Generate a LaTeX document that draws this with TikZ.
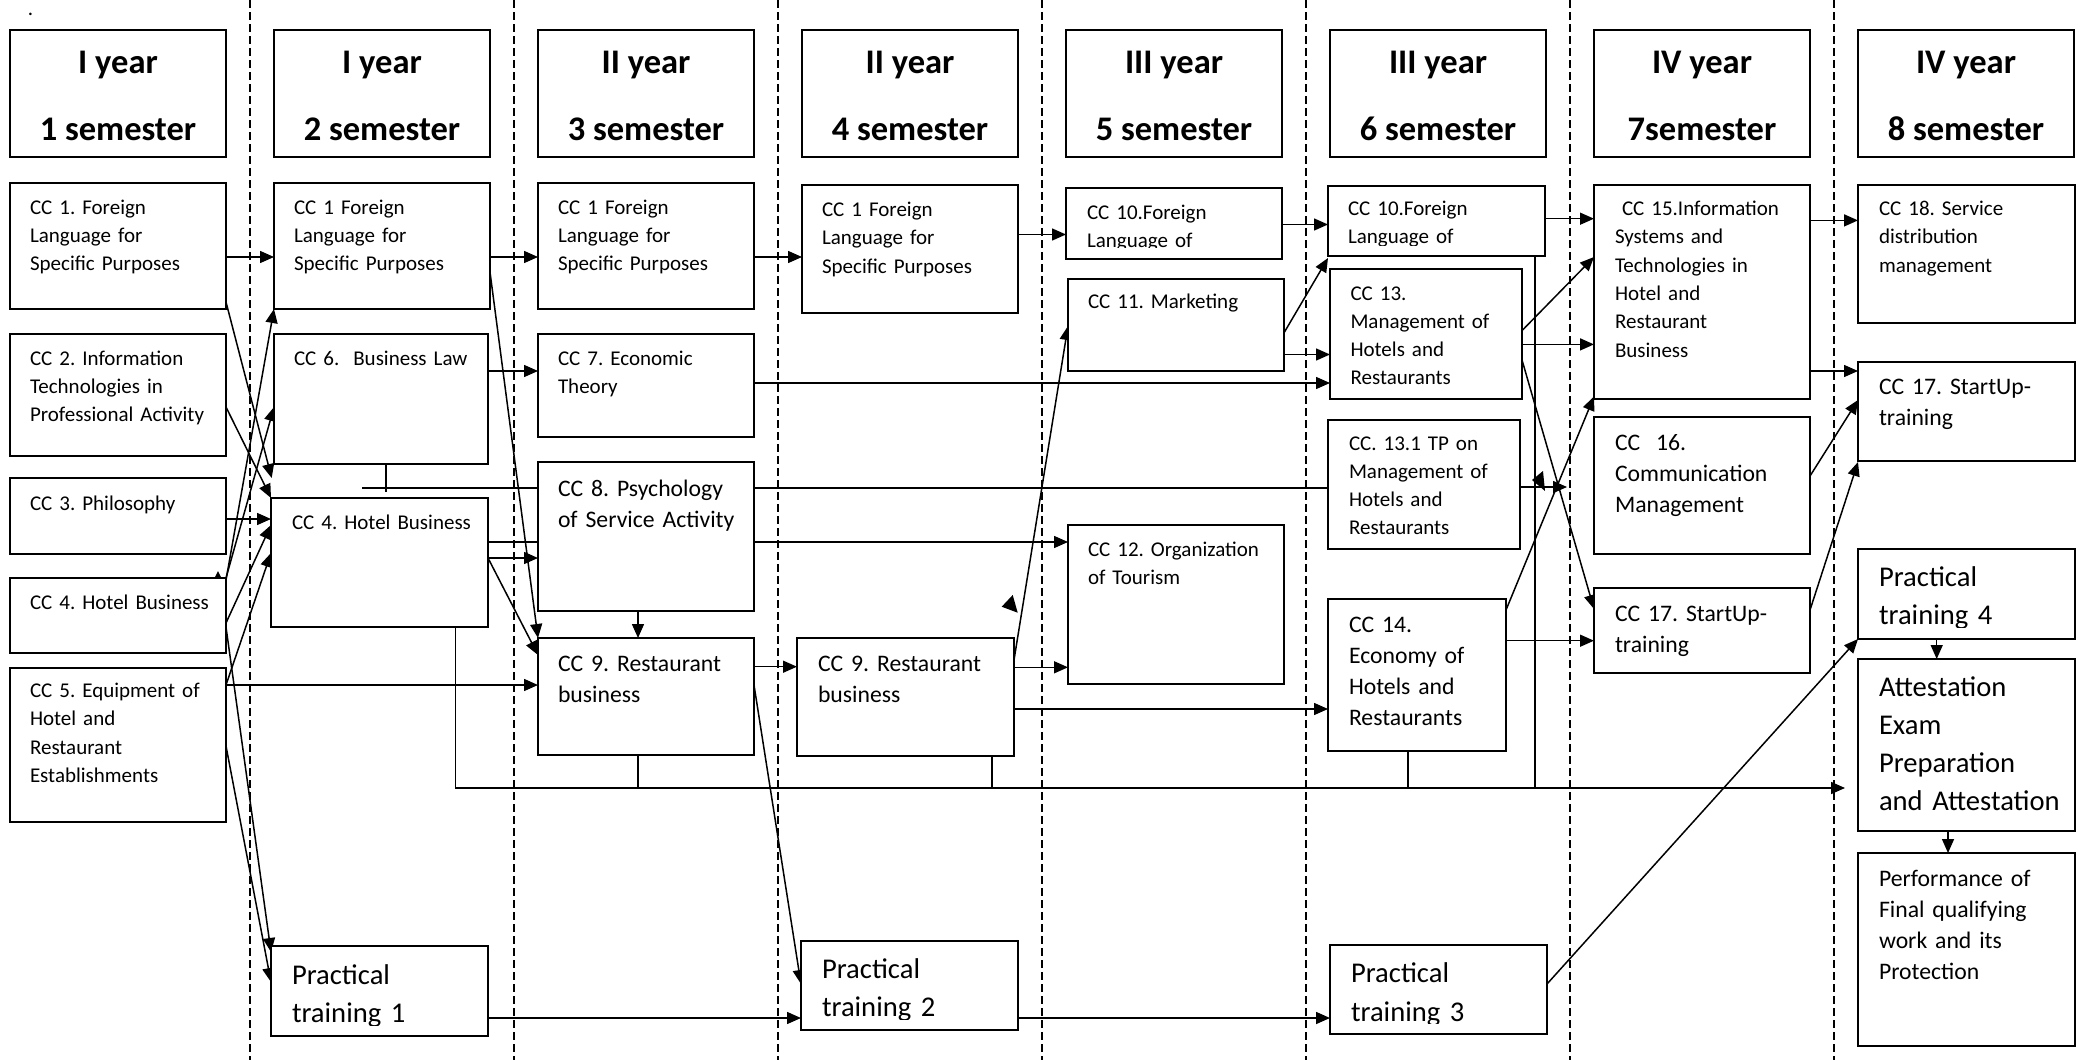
\documentclass[tikz,border=0pt]{standalone}
\usepackage{fontspec}
\setmainfont{Carlito}
\usetikzlibrary{arrows.meta}
\frenchspacing
\newcommand\szS{\fontsize{21}{28.3}\selectfont}
\newcommand\szM{\fontsize{23.7}{31}\selectfont}
\newcommand\szL{\fontsize{28.6}{38.3}\selectfont}
\newcommand\szH{\fontsize{34.5}{40}\selectfont\bfseries}
\tikzset{
  box/.style={draw, line width=1.9pt, fill=white, inner sep=0pt, outer sep=0pt, rectangle},
  txt/.style={anchor=base west, inner sep=0pt, outer sep=0pt, align=left, text width=320pt},
  hdr/.style={anchor=base, inner sep=0pt, outer sep=0pt, font=\szH},
  con/.style={line width=1.5pt},
  arr/.style={con, -{Triangle[length=14pt,width=12pt]}},
  dsh/.style={line width=1.6pt, dash pattern=on 8pt off 4pt},
}
\newcommand\mkbox[5]{\node[box,minimum width={#4-#2},minimum height={#5-#3}] (#1) at ({(#2+#4)/2},{(#3+#5)/2}) {};}
\begin{document}
\begin{tikzpicture}[x=1pt,y=-1pt]
\fill[white] (0,0) rectangle (2080,1060);
\useasboundingbox (0,0) rectangle (2080,1060);
% dashed separators
\foreach \xx in {250,514,778,1042,1306,1570,1834}{\draw[dsh] (\xx,0) -- (\xx,1060);}
\node[font=\szS, anchor=base, inner sep=0pt] (dot) at (30.5,16) {.};
% ---------- box geometry (nodes defined first, drawn later by fill) ----------
\begin{scope}[box/.append style={draw=none, fill=none}]
\mkbox{c1a}{10}{183}{226}{309}
\mkbox{c1b}{10}{334}{226}{456}
\mkbox{c1c}{10}{478}{226}{554}
\mkbox{c1d}{10}{578}{226}{653}
\mkbox{c1e}{10}{668}{226}{822}
\mkbox{c2a}{274}{183}{490}{309}
\mkbox{c2b}{274}{334}{488}{464}
\mkbox{c2c}{271}{498}{488}{627}
\mkbox{pt1}{271}{946}{488}{1036}
\mkbox{c3a}{538}{183}{754}{309}
\mkbox{c3b}{538}{334}{754}{437}
\mkbox{c3c}{538}{462}{754}{611}
\mkbox{c3d}{538}{638}{754}{755}
\mkbox{c4a}{802}{185}{1018}{313}
\mkbox{c4b}{797}{638}{1014}{756}
\mkbox{pt2}{801}{941}{1018}{1030}
\mkbox{c5a}{1066}{188}{1282}{259}
\mkbox{c5b}{1068}{279}{1284}{371}
\mkbox{c5c}{1068}{525}{1284}{684}
\mkbox{c6a}{1328}{186}{1545}{256}
\mkbox{c6b}{1330}{269}{1522}{399}
\mkbox{c6c}{1328}{420}{1520}{549}
\mkbox{c6d}{1328}{599}{1506}{751}
\mkbox{pt3}{1330}{945}{1547}{1034}
\mkbox{c7a}{1594}{185}{1810}{399}
\mkbox{c7b}{1594}{417}{1810}{554}
\mkbox{c7c}{1594}{588}{1810}{673}
\mkbox{c8a}{1858}{185}{2075}{323}
\mkbox{c8b}{1858}{362}{2075}{461}
\mkbox{pt4}{1858}{549}{2075}{639}
\mkbox{att}{1858}{659}{2075}{831}
\mkbox{perf}{1858}{853}{2075}{1046}
\end{scope}
% ---------- connectors ----------
\draw[arr] (c1a.east |- 0,257) -- (c2a.west |- 0,257);
\draw[arr] (c2a.east |- 0,257) -- (c3a.west |- 0,257);
\draw[arr] (c3a.east |- 0,257) -- (c4a.west |- 0,257);
\draw[arr] (c4a.east |- 0,234.5) -- (c5a.west |- 0,234.5);
\draw[arr] (c5a.east |- 0,224.5) -- (c6a.west |- 0,224.5);
\draw[arr] (c6a.east |- 0,218.7) -- (c7a.west |- 0,218.7);
\draw[arr] (c7a.east |- 0,220.4) -- (c8a.west |- 0,220.4);
\draw[arr] (c7a.east |- 0,371) -- (c8b.west |- 0,371);
\draw[arr] (c6b.east |- 0,330.6) -- (c7a.west |- 0,257);
\draw[arr] (c6b.east |- 0,344.4) -- (c7a.west |- 0,344.4);
\draw[arr] (c6b.east |- 0,360) -- (c7c.west |- 0,609);
\draw[arr] (c6d.east |- 0,610) -- (c7a.west |- 0,396.5);
\draw[arr] (c6d.east |- 0,640.7) -- (c7c.west |- 0,640.7);
\coordinate (x13) at (1567,487);
\draw[arr] (c6c.east |- 0,487) -- (x13);
\draw[arr] (c7b.east |- 0,476) -- (c8b.west |- 0,400);
\draw[arr] (c7c.east |- 0,610) -- (c8b.west |- 0,462);
\draw[arr] (pt3.east |- 0,984) -- (pt4.west |- 0,639);
\draw[arr] (pt4.south -| 1936.7,0) -- (att.north -| 1936.7,0);
\draw[arr] (att.south -| 1948,0) -- (perf.north -| 1948,0);
\draw[arr] (c5b.east |- 0,332.8) -- (c6a.west |- 0,258);
\draw[arr] (c5b.east |- 0,354.5) -- (c6b.west |- 0,354.5);
\draw[arr] (c3b.east |- 0,383) -- (c6b.west |- 0,383);
\draw[arr] (c4b.east |- 0,660) -- (c5b.west |- 0,326);
\draw[arr] (c4b.east |- 0,667.3) -- (c5c.west |- 0,667.3);
\draw[arr] (c4b.east |- 0,709) -- (c6d.west |- 0,709);
\draw[arr] (c3d.east |- 0,666.7) -- (c4b.west |- 0,666.7);
\draw[arr] (c3d.east |- 0,685) -- (pt2.west |- 0,984);
\draw[arr] (pt1.east |- 0,1018) -- (pt2.west |- 0,1018);
\draw[arr] (pt2.east |- 0,1018) -- (pt3.west |- 0,1018);
\draw[arr] (c3c.south -| 638,0) -- (c3d.north -| 638,0);
\draw[arr] (c2c.east |- 0,542) -- (c5c.west |- 0,542);
\draw[arr] (c2c.east |- 0,558) -- (c3c.west |- 0,558);
\draw[arr] (c2c.east |- 0,558) -- (c3d.west |- 0,655);
\draw[arr] (c2a.east |- 0,272) -- (c3d.north west);
\draw[arr] (c2b.east |- 0,371) -- (c3b.west |- 0,371);
\coordinate (x1) at (271.7,478);
\draw[arr] (c1a.east |- 0,302) -- (x1);
\draw[arr] (c1b.east |- 0,407) -- (c2c.north west);
\draw[arr] (c1c.east |- 0,519) -- (c2c.west |- 0,519);
\draw[arr] (c1d.east |- 0,580) -- (c2a.south west);
\draw[arr] (c1d.east |- 0,578) -- (c2b.west |- 0,407);
\draw[arr] (c1d.east |- 0,623) -- (c2c.west |- 0,525);
\draw[arr] (c1d.east |- 0,627) -- (pt1.west |- 0,952);
\draw[arr] (c1e.east |- 0,685) -- (c2c.west |- 0,553);
\draw[arr] (c1e.east |- 0,685) -- (c3d.west |- 0,685);
\draw[arr] (c1e.east |- 0,746) -- (pt1.west |- 0,982);
% CC6 -> CC13.1 (T connector)
\coordinate (t6) at (386,492);
\coordinate (t6b) at (362,488);
\draw[con] (c2b.south -| 386,0) -- (t6);
\draw[con] (t6b) -- (c6c.west |- 0,488);
% bottom bus to attestation
\coordinate (bus) at (0,788);
\coordinate (busend) at (1845,788);
\draw[arr] (c2c.south -| 455.6,0) |- (busend);
\draw[con] (c3d.south -| 638,0) -- (638,0 |- bus);
\draw[con] (c4b.south -| 992,0) -- (992,0 |- bus);
\draw[con] (c6d.south -| 1408,0) -- (1408,0 |- bus);
\draw[con] (c6a.south -| 1535,0) -- (1535,0 |- bus);
% stray arrowheads
\fill (214,579) -- (222,579) -- (218,571) -- cycle;
\fill (1001.7,606.7) -- (1012.7,595) -- (1017.7,612.7) -- cycle;
\fill (1532,480) -- (1543,471) -- (1545,491) -- cycle;
% ---------- boxes ----------
\foreach \n/\a/\b/\c/\d in {h1/10/30/226/157,h2/274/30/490/157,h3/538/30/754/157,h4/802/30/1018/157,h5/1066/30/1282/157,h6/1330/30/1546/157,h7/1594/30/1810/157,h8/1858/30/2074/157}{\mkbox{\n}{\a}{\b}{\c}{\d}}
\foreach \n in {c1a,c1b,c1c,c1d,c1e,c2a,c2b,c2c,pt1,c3a,c3b,c3c,c3d,c4a,c4b,pt2,c5a,c5b,c5c,c6a,c6b,c6c,c6d,pt3,c7a,c7b,c7c,c8a,c8b,pt4,att,perf}{\draw[line width=1.9pt, fill=white] (\n.north west) rectangle (\n.south east);}
% ---------- headers ----------
\node[hdr] (h1a) at (118,73.5) {I year};   \node[hdr] (h1b) at (118,140.5) {1 semester};
\node[hdr] (h2a) at (382,73.5) {I year};   \node[hdr] (h2b) at (382,140.5) {2 semester};
\node[hdr] (h3a) at (646,73.5) {II year};  \node[hdr] (h3b) at (646,140.5) {3 semester};
\node[hdr] (h4a) at (910,73.5) {II year};  \node[hdr] (h4b) at (910,140.5) {4 semester};
\node[hdr] (h5a) at (1174,73.5) {III year}; \node[hdr] (h5b) at (1174,140.5) {5 semester};
\node[hdr] (h6a) at (1438,73.5) {III year}; \node[hdr] (h6b) at (1438,140.5) {6 semester};
\node[hdr] (h7a) at (1702,73.5) {IV year};  \node[hdr] (h7b) at (1702,140.5) {7semester};
\node[hdr] (h8a) at (1966,73.5) {IV year};  \node[hdr] (h8b) at (1966,140.5) {8 semester};
% ---------- texts ----------
\node[txt,font=\szS] (c1a-t) at (30,214) {CC 1. Foreign\\Language for\\Specific Purposes};
\node[txt,font=\szS] (c1b-t) at (30,365) {CC 2. Information\\Technologies in\\Professional Activity};
\node[txt,font=\szS] (c1c-t) at (30,510) {CC 3. Philosophy};
\node[txt,font=\szS] (c1d-t) at (30,609) {CC 4. Hotel Business};
\node[txt,font=\szS] (c1e-t) at (30,697.5) {CC 5. Equipment of\\Hotel and\\Restaurant\\Establishments};
\node[txt,font=\szS] (c2a-t) at (294,214) {CC 1 Foreign\\Language for\\Specific Purposes};
\node[txt,font=\szS] (c2b-t) at (294,365) {CC 6.\ \ Business Law};
\node[txt,font=\szS] (c2c-t) at (292,529) {CC 4. Hotel Business};
\begin{scope}\clip (271,946) rectangle (488,1025);
\node[txt,font=\szL] (pt1-t) at (292,984) {Practical\\training 1};
\end{scope}
\node[txt,font=\szS] (c3a-t) at (558,214) {CC 1 Foreign\\Language for\\Specific Purposes};
\node[txt,font=\szS] (c3b-t) at (558,365) {CC 7. Economic\\Theory};
\node[txt,font=\szM] (c3c-t) at (558,496.5) {CC 8. Psychology\\of Service Activity};
\node[txt,font=\szM] (c3d-t) at (558,671.7) {CC 9. Restaurant\\business};
\node[txt,font=\szS] (c4a-t) at (822,216.5) {CC 1 Foreign\\Language for\\Specific Purposes};
\node[txt,font=\szM] (c4b-t) at (818,671.7) {CC 9. Restaurant\\business};
\begin{scope}\clip (801,941) rectangle (1018,1019.5);
\node[txt,font=\szL] (pt2-t) at (822,978.6) {Practical\\training 2};
\end{scope}
\begin{scope}\clip (1066,188) rectangle (1282,247.5);
\node[txt,font=\szS] (c5a-t) at (1087,219) {CC 10.Foreign\\Language of};
\end{scope}
\node[txt,font=\szS] (c5b-t) at (1088,308.6) {CC 11. Marketing};
\node[txt,font=\szS] (c5c-t) at (1088,556) {CC 12. Organization\\of Tourism};
\begin{scope}\clip (1328,186) rectangle (1545,245.5);
\node[txt,font=\szS] (c6a-t) at (1348,215.5) {CC 10.Foreign\\Language of};
\end{scope}
\node[txt,font=\szS] (c6b-t) at (1350.5,300) {CC 13.\\Management of\\Hotels and\\Restaurants};
\node[txt,font=\szS] (c6c-t) at (1349,450) {CC. 13.1 TP on\\Management of\\Hotels and\\Restaurants};
\node[txt,font=\szM] (c6d-t) at (1349,632) {CC 14.\\Economy of\\Hotels and\\Restaurants};
\begin{scope}\clip (1330,945) rectangle (1547,1023.5);
\node[txt,font=\szL] (pt3-t) at (1351,982.8) {Practical\\training 3};
\end{scope}
\node[txt,font=\szS] (c7a-t) at (1615,215.5) {\ CC 15.Information\\Systems and\\Technologies in\\Hotel and\\Restaurant\\Business};
\node[txt,font=\szM] (c7b-t) at (1615,450) {CC\ \ 16.\\Communication\\Management};
\node[txt,font=\szM] (c7c-t) at (1615,621.7) {CC 17. StartUp-\\training};
\node[txt,font=\szS] (c8a-t) at (1879,215.5) {CC 18. Service\\distribution\\management};
\node[txt,font=\szM] (c8b-t) at (1879,394.8) {CC 17. StartUp-\\training};
\begin{scope}\clip (1858,549) rectangle (2075,627);
\node[txt,font=\szL] (pt4-t) at (1879,586) {Practical\\training 4};
\end{scope}
\node[txt,font=\szL] (att-t) at (1879,696) {Attestation\\Exam\\Preparation\\and Attestation};
\node[txt,font=\szM] (perf-t) at (1879,886) {Performance of\\Final qualifying\\work and its\\Protection};
\end{tikzpicture}
\end{document}
